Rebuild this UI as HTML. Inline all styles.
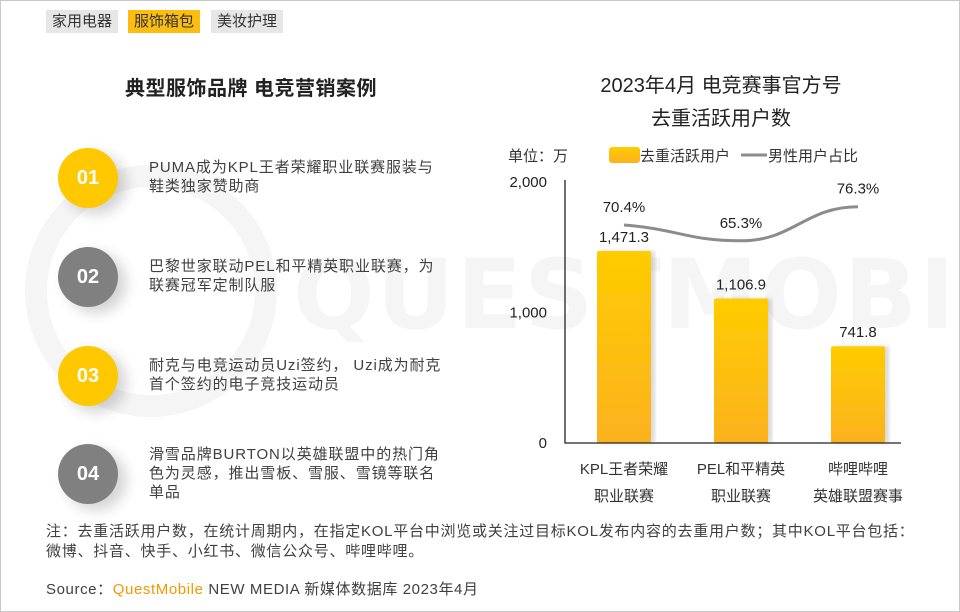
<!DOCTYPE html>
<html><head><meta charset="utf-8">
<style>
body{margin:0;width:960px;height:612px;overflow:hidden;background:#fff;font-family:"Liberation Sans","Noto Sans CJK SC",sans-serif;}
#page{position:relative;width:958px;height:610px;border:1px solid #c8c8c8;background:#fff;overflow:hidden}
.tab{position:absolute;top:9px;height:23px;line-height:23px;font-size:15px;color:#333;background:#e6e6e6;padding:0 6px;}
.circ{position:absolute;left:57px;width:60px;height:60px;border-radius:50%;color:#fff;font-weight:bold;font-size:20px;text-align:center;line-height:60px;box-shadow:8px 6px 14px rgba(0,0,0,0.18)}
.item{position:absolute;left:148px;width:310px;font-size:15px;line-height:19px;color:#404040;letter-spacing:0.9px}
.t{position:absolute;font-size:20px;color:#222;text-align:center}
.wm{position:absolute;left:292px;top:238px;font-family:"DejaVu Sans",sans-serif;font-weight:bold;font-size:96px;color:#f5f5f5;letter-spacing:2px;white-space:nowrap}
</style></head><body>
<div id="page">
<svg style="position:absolute;left:0;top:0" width="958" height="610">
<circle cx="150" cy="290" r="115" fill="none" stroke="#f5f5f5" stroke-width="22"/>
</svg>
<div class="wm">QUESTMOBILE</div>
<div class="tab" style="left:45px">家用电器</div>
<div class="tab" style="left:127px;background:#fbbd12">服饰箱包</div>
<div class="tab" style="left:210px">美妆护理</div>
<div class="t" style="left:85px;top:71px;width:330px;font-weight:bold;letter-spacing:0.5px">典型服饰品牌 电竞营销案例</div>
<div class="t" style="left:540px;top:69px;width:360px;line-height:33px">2023年4月 电竞赛事官方号<br>去重活跃用户数</div>

<div class="circ" style="top:147px;background:#ffc800">01</div>
<div class="item" style="top:157px">PUMA成为KPL王者荣耀职业联赛服装与<br>鞋类独家赞助商</div>
<div class="circ" style="top:246px;background:#808080">02</div>
<div class="item" style="top:256px">巴黎世家联动PEL和平精英职业联赛，为<br>联赛冠军定制队服</div>
<div class="circ" style="top:345px;background:#ffc800">03</div>
<div class="item" style="top:355px">耐克与电竞运动员Uzi签约， Uzi成为耐克<br>首个签约的电子竞技运动员</div>
<div class="circ" style="top:443px;background:#808080">04</div>
<div class="item" style="top:444px">滑雪品牌BURTON以英雄联盟中的热门角<br>色为灵感，推出雪板、雪服、雪镜等联名<br>单品</div>

<svg id="chart" style="position:absolute;left:0;top:0" width="958" height="610">
<defs><linearGradient id="bg" x1="0" y1="0" x2="0" y2="1"><stop offset="0" stop-color="#ffcc00"/><stop offset="1" stop-color="#fbb21e"/></linearGradient>
<filter id="sh"><feDropShadow dx="4" dy="0" stdDeviation="2" flood-color="#000" flood-opacity="0.15"/></filter></defs>
</svg>

<div style="position:absolute;left:45px;top:521px;font-size:15px;line-height:20px;color:#404040;letter-spacing:0.75px;white-space:nowrap">注：去重活跃用户数，在统计周期内，在指定KOL平台中浏览或关注过目标KOL发布内容的去重用户数；其中KOL平台包括：<br>微博、抖音、快手、小红书、微信公众号、哔哩哔哩。</div>
<div style="position:absolute;left:45px;top:577px;font-size:15px;color:#404040;white-space:nowrap;letter-spacing:0.6px">Source：<span style="color:#f39800">QuestMobile</span> NEW MEDIA 新媒体数据库 2023年4月</div>
</div>
<script>
const categories=[["KPL王者荣耀","职业联赛"],["PEL和平精英","职业联赛"],["哔哩哔哩","英雄联盟赛事"]];
const users=[1471.3,1106.9,741.8];
const userLabels=["1,471.3","1,106.9","741.8"];
const maleShare=[70.4,65.3,76.3];
const yTicks=[0,1000,2000];
const yTickLabels=["0","1,000","2,000"];
const svg=document.getElementById('chart');
const NS='http://www.w3.org/2000/svg';
const x0=564,x1=900,yBase=442,yTop=181,step=117,bw=54;
const y=v=>yBase-(v/2000)*(yBase-yTop);
const yp=p=>224-(p-70.4)*3.1;
const cx=i=>623+i*step;
function mk(tag,attrs,txt){const e=document.createElementNS(NS,tag);for(const k in attrs)e.setAttribute(k,attrs[k]);if(txt!=null)e.textContent=txt;svg.appendChild(e);return e;}
const lab={'font-size':15,fill:'#222','font-family':'Liberation Sans, Noto Sans CJK SC, sans-serif'};
yTicks.forEach((t,i)=>{const e=mk('text',Object.assign({x:546,y:y(t)+5,'text-anchor':'end'},lab),yTickLabels[i]);

});
users.forEach((v,i)=>{const r=mk('rect',{x:cx(i)-bw/2,y:y(v),width:bw,height:yBase-y(v),rx:2,fill:'url(#bg)',filter:'url(#sh)'});


const t=mk('text',Object.assign({x:cx(i),y:y(v)-9,'text-anchor':'middle'},lab),userLabels[i]);


categories[i].forEach((s,j)=>{const c=mk('text',Object.assign({x:cx(i),y:473+j*27,'text-anchor':'middle'},lab,{fill:'#333'}),s);

});});
const ax=mk('path',{d:`M${x0} ${yTop-2}V${yBase}H${x1}`,stroke:'#222','stroke-width':1.3,fill:'none'});


let d=`M${cx(0)} ${yp(maleShare[0])}`;
for(let i=1;i<maleShare.length;i++){const xa=cx(i-1),xb=cx(i),ya=yp(maleShare[i-1]),yb=yp(maleShare[i]);d+=` C${xa+step*0.45} ${ya+(i==1?4:0)} ${xb-step*0.45} ${yb} ${xb} ${yb}`;}
const ln=mk('path',{d:d,stroke:'#8c8c8c','stroke-width':3,fill:'none'});


maleShare.forEach((p,i)=>{const t=mk('text',Object.assign({x:cx(i),y:yp(p)-13,'text-anchor':'middle'},lab),p.toFixed(1)+'%');

});
const u=mk('text',Object.assign({x:507,y:160},lab,{fill:'#333'}),'单位：万');


const lr=mk('rect',{x:608,y:146,width:31,height:16,rx:3,fill:'url(#bg)'});


const l1=mk('text',Object.assign({x:639,y:160},lab,{fill:'#333'}),'去重活跃用户');


const ll=mk('line',{x1:740,y1:154,x2:766,y2:154,stroke:'#8c8c8c','stroke-width':3});


const l2=mk('text',Object.assign({x:767,y:160},lab,{fill:'#333'}),'男性用户占比');


</script>
</body></html>
